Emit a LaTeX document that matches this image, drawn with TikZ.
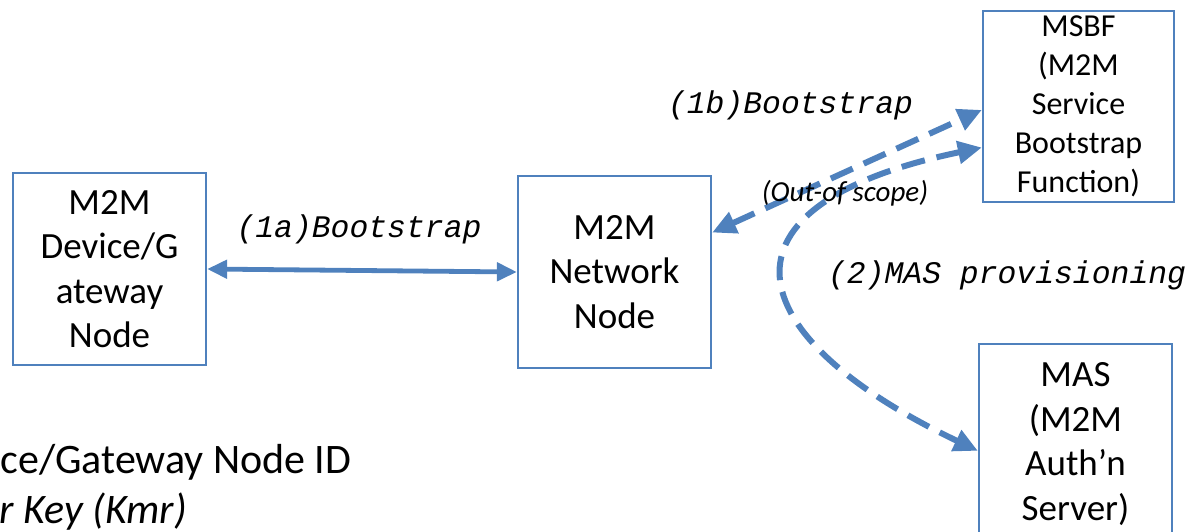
\documentclass[tikz,border=0pt]{standalone}
\usepackage{fontspec}
\setmainfont{Carlito}
\setmonofont{Liberation Mono}
\usepackage{tikz}
\usetikzlibrary{positioning, arrows.meta, calc}
\definecolor{officeblue}{RGB}{79,129,189}

\begin{document}
\begin{tikzpicture}[x=0.5pt, y=-0.5pt,
    entity/.style={draw=officeblue, line width=1.1pt, fill=white, minimum width=96.5pt, minimum height=96pt, align=center, inner sep=0pt, font=\fontsize{18.5}{22.2}\selectfont},
    solidlink/.style={officeblue, line width=2.4pt, {Triangle[length=10pt, width=9pt]}-{Triangle[length=10pt, width=9pt]}},
    dashlink/.style={officeblue, line width=3pt, dash pattern=on 12pt off 6pt, {Triangle[length=12pt, width=11pt]}-{Triangle[length=12pt, width=11pt]}},
    msg/.style={font=\fontsize{15.7}{19}\selectfont\ttfamily\itshape, anchor=base}
]
    \useasboundingbox (0,0) rectangle (1189,531);

    % Entities
    \node[entity] (dev) at (109.5,269) {M2M\\Device/G\\ateway\\Node};
    \node[entity] (net) at (614.5,272) {M2M\\Network\\Node};
    \node[entity, minimum width=95.5pt, minimum height=95.5pt, font=\fontsize{16}{19.5}\selectfont] (msbf) at (1078.5,106.5) {MSBF\\(M2M\\Service\\Bootstrap\\Function)};
    \node[entity, minimum height=100pt] (mas) at (1075.5,444) {MAS\\(M2M\\Auth’n\\Server)};

    % Links
    \draw[solidlink] (dev.east) -- (net.west);
    \draw[dashlink] (net.22.5) -- (msbf.182);
    \draw[dashlink] (msbf.203) .. controls (705,205) and (735,335) .. (mas.184);

    % Labels
    \node[msg] (l1a) at (359,237) {(1a)Bootstrap};
    \node[msg] (l1b) at (790.5,113) {(1b)Bootstrap};
    \node[msg, anchor=base west] (l2) at (821,283) {(2)MAS provisioning};
    \node[anchor=base, font=\fontsize{14.5}{17}\selectfont\itshape] (oos) at (845,201) {(Out-of scope)};

    % Credentials
    \node[anchor=base west, inner sep=0pt, font=\fontsize{21}{25}\selectfont] (cred1) at (0,473) {ce/Gateway Node ID};
    \node[anchor=base west, inner sep=0pt, font=\fontsize{21}{25}\selectfont\itshape] (cred2) at (-1,523) {r Key (Kmr)};
\end{tikzpicture}
\end{document}
